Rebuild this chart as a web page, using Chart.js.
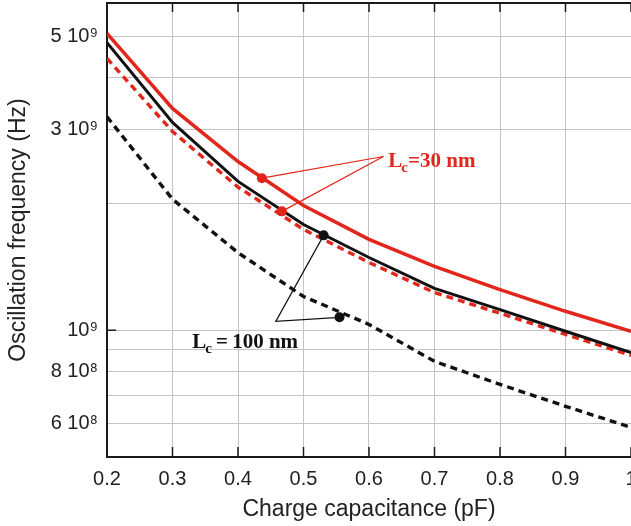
<!DOCTYPE html>
<html>
<head>
<meta charset="utf-8">
<script src="https://cdn.jsdelivr.net/npm/chart.js@4"></script>
<style>
html, body { margin: 0; padding: 0; background: #fff; }
#wrap { width: 631px; height: 526px; }
</style>
</head>
<body>
<div id="wrap"><canvas id="grafico" width="631" height="526"></canvas></div>
<script>
// dados
var capacitancia = [0.2, 0.3, 0.4, 0.5, 0.6, 0.7, 0.8, 0.9, 1.0];
var freqVermelhoCheio = [5.08e9, 3.37e9, 2.52e9, 1.98e9, 1.645e9, 1.42e9, 1.25e9, 1.11e9, 0.995e9];
var freqPretoCheio = [4.83e9, 3.12e9, 2.26e9, 1.785e9, 1.49e9, 1.258e9, 1.12e9, 0.995e9, 0.886e9];
var freqVermelhoTracejado = [4.43e9, 2.97e9, 2.19e9, 1.738e9, 1.45e9, 1.23e9, 1.098e9, 0.978e9, 0.872e9];
var freqPretoTracejado = [3.22e9, 2.05e9, 1.53e9, 1.204e9, 1.033e9, 0.844e9, 0.744e9, 0.66e9, 0.588e9];

// grade e rotulos do eixo y
var gradeY = [5e8, 6e8, 7e8, 8e8, 9e8, 1e9, 2e9, 3e9, 4e9, 5e9, 6e9];
var valoresRotuloY = [5e9, 3e9, 1e9, 8e8, 6e8];
var textosRotuloY = ['5 10\u2079', '3 10\u2079', '10\u2079', '8 10\u2078', '6 10\u2078'];

// anotacoes (pontos e textos)
var pontosVermelhos = [[0.4365, 2.30e9], [0.467, 1.918e9]];
var verticeVermelho = [0.622, 2.59e9];
var pontosPretos = [[0.5307, 1.682e9], [0.555, 1.074e9]];
var verticePreto = [0.4577, 1.05e9];
var textoVermelho = { x: 0.6295, y: 2.44e9, sub: 'c', resto: '=30 nm' };
var textoPreto = { x: 0.330, y: 0.906e9, sub: 'c', resto: '\u2009=\u2009100 nm' };

var vermelho = '#e2261c';
var fonteSans = '"Liberation Sans", Arial, sans-serif';

function serie(valores) {
    return capacitancia.map(function(x, i) { return { x: x, y: valores[i] }; });
}

var anotacoesPlugin = {
    id: 'anotacoes',
    afterDatasetsDraw: function(chart) {
        var ctx = chart.ctx;
        var sx = chart.scales.x, sy = chart.scales.y;
        function px(p) { return [sx.getPixelForValue(p[0]), sy.getPixelForValue(p[1])]; }

        function desenhaGrupo(pontos, vertice, cor, encadeado) {
            var v = px(vertice);
            ctx.save();
            ctx.strokeStyle = cor;
            ctx.lineWidth = 1.2;
            ctx.beginPath();
            if (encadeado) {
                var a = px(pontos[0]), b = px(pontos[1]);
                ctx.moveTo(a[0], a[1]);
                ctx.lineTo(v[0], v[1]);
                ctx.lineTo(b[0], b[1]);
            } else {
                pontos.forEach(function(p) {
                    var q = px(p);
                    ctx.moveTo(q[0], q[1]);
                    ctx.lineTo(v[0], v[1]);
                });
            }
            ctx.stroke();
            ctx.fillStyle = cor;
            pontos.forEach(function(p) {
                var q = px(p);
                ctx.beginPath();
                ctx.arc(q[0], q[1], 5, 0, Math.PI * 2);
                ctx.fill();
            });
            ctx.restore();
        }

        function desenhaTexto(t, cor) {
            var x = sx.getPixelForValue(t.x), y = sy.getPixelForValue(t.y);
            ctx.save();
            ctx.fillStyle = cor;
            ctx.textBaseline = 'alphabetic';
            ctx.font = 'bold 21px "Liberation Serif", "Times New Roman", serif';
            ctx.fillText('L', x, y);
            var w = ctx.measureText('L').width;
            ctx.font = 'bold 15px "Liberation Serif", "Times New Roman", serif';
            ctx.fillText(t.sub, x + w - 1, y + 5);
            var w2 = ctx.measureText(t.sub).width;
            ctx.font = 'bold 21px "Liberation Serif", "Times New Roman", serif';
            ctx.fillText(t.resto, x + w + w2 - 1, y);
            ctx.restore();
        }

        desenhaGrupo(pontosVermelhos, verticeVermelho, vermelho, false);
        desenhaGrupo(pontosPretos, verticePreto, '#111', true);
        desenhaTexto(textoVermelho, vermelho);
        desenhaTexto(textoPreto, '#111');
    },
    afterDraw: function(chart) {
        // moldura superior e marcas internas
        var ctx = chart.ctx, area = chart.chartArea;
        var sx = chart.scales.x, sy = chart.scales.y;
        ctx.save();
        ctx.strokeStyle = '#1a1a1a';
        ctx.lineWidth = 2;
        ctx.beginPath();
        ctx.moveTo(area.left - 1, area.top);
        ctx.lineTo(area.right, area.top);
        ctx.stroke();
        ctx.lineWidth = 1.5;
        ctx.beginPath();
        capacitancia.forEach(function(c) {
            var x = sx.getPixelForValue(c);
            ctx.moveTo(x, area.bottom);
            ctx.lineTo(x, area.bottom - 10);
            ctx.moveTo(x, area.top);
            ctx.lineTo(x, area.top + 9);
        });
        var y9 = sy.getPixelForValue(1e9);
        ctx.moveTo(area.left, y9);
        ctx.lineTo(area.left + 9, y9);
        ctx.stroke();
        ctx.restore();
    }
};

var data = {
    datasets: [
        { data: serie(freqVermelhoCheio), borderColor: vermelho, borderWidth: 3.5 },
        { data: serie(freqPretoCheio), borderColor: '#111', borderWidth: 3 },
        { data: serie(freqVermelhoTracejado), borderColor: vermelho, borderWidth: 3.4, borderDash: [7, 5] },
        { data: serie(freqPretoTracejado), borderColor: '#111', borderWidth: 3.4, borderDash: [7, 5] }
    ]
};

var options = {
    responsive: false,
    animation: false,
    parsing: false,
    layout: { padding: { left: 0, top: 3, right: -2, bottom: 0 } },
    elements: { point: { radius: 0 }, line: { tension: 0, fill: false } },
    plugins: { legend: { display: false }, tooltip: { enabled: false } },
    scales: {
        x: {
            type: 'linear',
            min: 0.2,
            max: 1.0,
            grid: { color: '#c4c4c4', lineWidth: 1, drawTicks: false },
            border: { display: true, color: '#1a1a1a', width: 2 },
            ticks: {
                stepSize: 0.1,
                autoSkip: false,
                maxRotation: 0,
                padding: 10,
                color: '#222',
                font: { family: fonteSans, size: 20 },
                callback: function(v) { return String(+v.toFixed(1)); }
            },
            title: {
                display: true,
                text: 'Charge capacitance (pF)',
                color: '#222',
                font: { family: fonteSans, size: 23 },
                padding: { top: 0, bottom: 3 }
            },
            afterFit: function(scale) {
                scale.height = 69;
                scale.paddingLeft = 0;
                scale.paddingRight = 0;
            }
        },
        y: {
            type: 'logarithmic',
            min: 5e8,
            max: 6e9,
            grid: { color: '#c4c4c4', lineWidth: 1, drawTicks: false },
            border: { display: true, color: '#1a1a1a', width: 2 },
            afterBuildTicks: function(scale) {
                scale.ticks = gradeY.map(function(v) { return { value: v }; });
            },
            ticks: {
                autoSkip: false,
                padding: 9,
                color: '#222',
                font: { family: fonteSans, size: 20 },
                callback: function(v) {
                    var i = valoresRotuloY.indexOf(v);
                    return i >= 0 ? textosRotuloY[i] : '';
                }
            },
            title: {
                display: true,
                text: 'Oscillation frequency (Hz)',
                color: '#222',
                font: { family: fonteSans, size: 23 },
                padding: { top: 5, bottom: 0 }
            },
            afterFit: function(scale) {
                scale.width = 107;
                scale.paddingTop = 0;
                scale.paddingBottom = 0;
            }
        }
    }
};

var ctx = document.getElementById('grafico').getContext('2d');
var grafico = new Chart(ctx, {
    type: 'line',
    data: data,
    options: options,
    plugins: [anotacoesPlugin]
});
</script>
</body>
</html>
